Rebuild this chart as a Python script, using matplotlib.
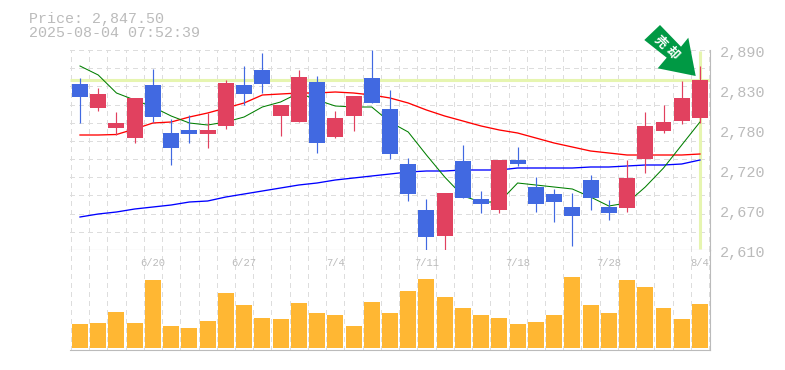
"""Daily candlestick chart with moving averages and volume panel."""

# --------------------------------------------------
# load necessary modules
# --------------------------------------------------
import matplotlib

matplotlib.use("Agg")

import matplotlib.pyplot as plt
import numpy as np
from matplotlib.patches import Polygon
from matplotlib.transforms import IdentityTransform

# --------------------------------------------------
# chart data
# --------------------------------------------------
opens = [2842.4, 2808.8, 2780.8, 2766.8, 2841, 2773.8, 2778, 2772.4, 2783.6, 2841, 2862, 2797.6,
         2789.2, 2845.2, 2768.2, 2797.6, 2850.8, 2807.4, 2730.4, 2666, 2629.6, 2734.6, 2681.4, 2666,
         2736, 2698.2, 2688.4, 2670.2, 2708, 2670.2, 2668.8, 2737.4, 2776.6, 2790.6, 2794.8]
closes = [2824.2, 2828.4, 2787.8, 2822.8, 2796.2, 2752.8, 2772.4, 2778, 2843.8, 2828.4, 2842.4, 2813,
          2852.2, 2759.8, 2794.8, 2825.6, 2815.8, 2744.4, 2688.4, 2628.2, 2689.8, 2682.8, 2674.4, 2736,
          2730.4, 2674.4, 2677.2, 2657.6, 2682.8, 2661.8, 2710.8, 2783.6, 2789.2, 2822.8, 2847.5]
highs = [2850.8, 2836.8, 2803.2, 2822.8, 2863.4, 2793.4, 2799, 2801.8, 2848, 2867.6, 2885.8, 2813,
         2862, 2853.6, 2804.6, 2825.6, 2890, 2834, 2738.8, 2681.4, 2689.8, 2757, 2692.6, 2736,
         2754.2, 2712.2, 2695.4, 2689.8, 2715, 2680, 2736, 2803.2, 2813, 2846.6, 2867.6]
lows = [2787.8, 2804.6, 2771, 2759.8, 2789.2, 2729, 2759.8, 2752.8, 2779.4, 2813, 2829.8, 2769.6,
        2789.2, 2745.8, 2766.8, 2776.6, 2815.8, 2737.4, 2678.6, 2610, 2610, 2682.8, 2661.8, 2661.8,
        2727.6, 2663.2, 2649.2, 2615.6, 2666, 2652, 2663.2, 2717.8, 2773.8, 2786.4, 2787.8]
ma_short = [2867.6, 2855, 2829.8, 2820, 2810.2, 2797.6, 2787.8, 2785, 2789.2, 2796.2, 2810.2, 2817.2,
            2829.8, 2820, 2811.6, 2810.2, 2810.2, 2789.2, 2775.2, 2743, 2712.2, 2685.6, 2677.2, 2677.2,
            2703.8, 2701, 2698.2, 2695.4, 2684.2, 2671.6, 2675.8, 2698.2, 2724.8, 2757, 2789.2]
ma_mid = [2771, 2771, 2771.7, 2779.4, 2787.8, 2789.2, 2796.2, 2801.8, 2808.8, 2815.8, 2827, 2828.4,
          2829.8, 2829.8, 2831.2, 2829.8, 2827, 2822.8, 2815.8, 2806, 2797.6, 2790.6, 2783.6, 2778,
          2773.8, 2766.8, 2759.8, 2754.2, 2748.6, 2745.8, 2743, 2743, 2743, 2743, 2744.4]
ma_long = [2656.2, 2660.4, 2663.2, 2667.4, 2670.2, 2673, 2677.2, 2678.6, 2684.2, 2688.4, 2692.6, 2696.8,
           2701, 2703.8, 2708, 2710.8, 2713.6, 2716.4, 2719.2, 2720.6, 2720.6, 2722, 2722, 2722,
           2724.8, 2724.8, 2724.8, 2724.8, 2726.2, 2726.2, 2727.6, 2729, 2729, 2730.4, 2736]
volumes = [24, 25, 36, 25, 68, 22, 20, 27, 55, 43, 30, 29, 45, 35, 33, 22, 46, 35, 57, 69, 51, 40, 33,
           30, 24, 26, 33, 71, 43, 35, 68, 61, 40, 29, 44]
date_positions = [4, 9, 14, 19, 24, 29, 34]
date_labels = ["6/20", "6/27", "7/4", "7/11", "7/18", "7/28", "8/4"]
price_ticks = [2890, 2830, 2780, 2720, 2670, 2610]
price_now = 2847.5
stamp = "2025-08-04 07:52:39"

# --------------------------------------------------
# colors and sizes
# --------------------------------------------------
UP = "#E1415F"
DOWN = "#4169E1"
VOL = "#FFB733"
LIME = "#E6F5B0"
GRID = "#DDDDDD"
TEXT = "#BBBBBB"
W, H = 785, 370
MONO = "Liberation Mono"

x = np.arange(len(closes))
xlim = (-0.548, 34.55)

fig = plt.figure(figsize=(W / 100, H / 100), dpi=100, facecolor="white")
ax = fig.add_axes([70 / W, 1 - 250 / H, 640 / W, 200 / H])
ax_vol = fig.add_axes([70 / W, 1 - 350 / H, 640 / W, 100 / H])
ax.set_ylim(2610, 2890)
ax_vol.set_ylim(-2, 98)


# --------------------------------------------------
# shared axes cosmetics
# --------------------------------------------------
def _style_axes(axis):
    """Hide default ticks and keep only the solid right and bottom frame."""
    y0, y1 = axis.get_ylim()
    axis.set_xlim(*xlim)
    axis.set_xticks([])
    axis.set_yticks([])
    for side in ("top", "left"):
        axis.spines[side].set_visible(False)
    for side in ("right", "bottom"):
        axis.spines[side].set_color(TEXT)
        axis.spines[side].set_linewidth(0.8)
    axis.vlines(np.arange(len(closes) + 1) - 0.5, y0, y1, color=GRID, lw=0.8,
                linestyles=(0, (3.6, 3.6)), zorder=1, antialiased=False)


_style_axes(ax)
_style_axes(ax_vol)

# --------------------------------------------------
# price panel
# --------------------------------------------------
ax.hlines(np.linspace(2610, 2890, 12)[1:], *xlim, color=GRID, lw=0.8, linestyles=(0, (3.6, 3.6)),
          zorder=1, antialiased=False)
ax.axhline(price_now, color=LIME, lw=2.2, zorder=2, solid_capstyle="butt")
ax.vlines(x[-1], 2612, 2888, color=LIME, lw=2.2, zorder=2)

ax.plot(x, ma_long, color="#0000FF", lw=0.95, zorder=3)
ax.plot(x, ma_mid, color="#FF0000", lw=0.95, zorder=3)
ax.plot(x, ma_short, color="#007F00", lw=0.75, zorder=3)

colors = [UP if c >= o else DOWN for o, c in zip(opens, closes)]
ax.vlines(x, lows, highs, color=colors, lw=0.85, zorder=4)
bottoms = np.minimum(opens, closes)
heights = np.abs(np.subtract(closes, opens))
ax.bar(x, heights, bottom=bottoms, width=0.877, color=colors, linewidth=0, zorder=5)

# --------------------------------------------------
# volume panel
# --------------------------------------------------
ax_vol.bar(x, volumes, width=0.877, color=VOL, linewidth=0, zorder=3)
for pos, label in zip(date_positions, date_labels):
    ax_vol.text(pos, 85.5, label, color=TEXT, fontsize=7.6, family=MONO, ha="center", va="center", zorder=4)

# --------------------------------------------------
# price labels sit on an even 40 px ladder, rounded values as in the source
# --------------------------------------------------
for frac, tick in zip(np.linspace(1, 0, len(price_ticks)), price_ticks):
    ax.annotate(f"{tick:,}", xy=(1, frac), xycoords="axes fraction", xytext=(7, -2.2),
                textcoords="offset points", color=TEXT, fontsize=10.9, family=MONO, va="center",
                annotation_clip=False)

fig.text(29 / W, 1 - 18.5 / H, f"Price: {price_now:,.2f}", color=TEXT, fontsize=10.8, family=MONO, va="center")
fig.text(29 / W, 1 - 33 / H, stamp, color=TEXT, fontsize=10.8, family=MONO, va="center")

# --------------------------------------------------
# signal arrow, placed in pixel coordinates
# --------------------------------------------------
arrow_px = [(660, 25), (644.3, 40), (666.7, 57.7), (657.7, 68.3), (695.7, 76), (688.3, 37.7), (681, 46.7)]
arrow_xy = [(px, H - py) for px, py in arrow_px]
fig.add_artist(Polygon(arrow_xy, closed=True, transform=IdentityTransform(), facecolor="#009944",
                       edgecolor="none", zorder=10))
for label, (tx, ty) in zip("売却", [(660, 42), (672, 53)]):
    fig.text(tx / W, 1 - ty / H, label, color="white", fontsize=9, family="Noto Sans CJK JP",
             fontweight="bold", rotation=-45, ha="center", va="center", zorder=11)

fig.savefig("out.png", dpi=100)
